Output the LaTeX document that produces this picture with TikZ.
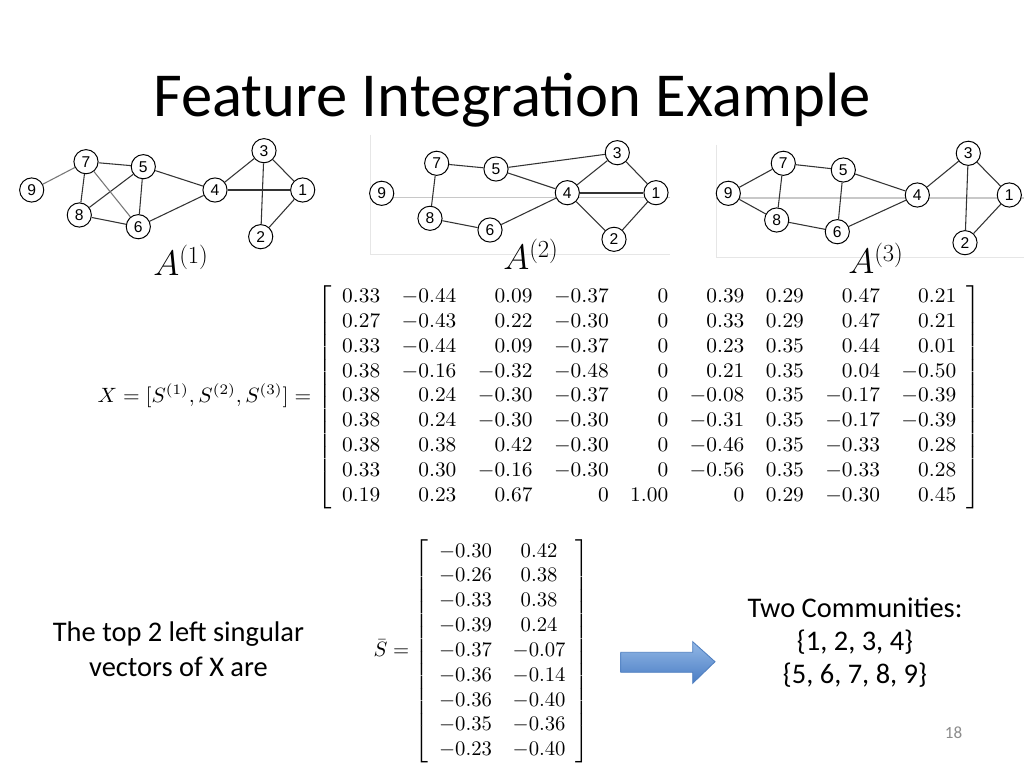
\documentclass[tikz,border=0pt]{standalone}
\usepackage[no-math]{fontspec}
\setmainfont{Carlito}
\newfontfamily\digitfont{Liberation Sans}
\usepackage{graphicx}
\definecolor{edgegray}{HTML}{333333}
\definecolor{lightedge}{HTML}{777777}
\definecolor{axisgray}{HTML}{C8C8C8}
\definecolor{axisfaint}{HTML}{E6E6E6}
\definecolor{arrowtop}{HTML}{93B8E6}
\definecolor{arrowbot}{HTML}{4A7DC4}
\definecolor{arrowline}{HTML}{4F7FC0}
\definecolor{pagegray}{HTML}{8C8C8C}
\tikzset{
  gnode/.style={circle,draw=black,fill=white,line width=0.7pt,minimum size=17pt,inner sep=0pt,font=\digitfont\fontsize{11}{12}\selectfont},
  gedge/.style={draw=edgegray,line width=0.75pt},
  gedgelight/.style={draw=lightedge,line width=0.75pt},
  axisline/.style={draw=axisgray,line width=0.6pt},
  faintline/.style={draw=axisfaint,line width=0.6pt},
  alabel/.style={anchor=base west,inner sep=0pt,font=\fontsize{23}{26}\selectfont},
  bodytext/.style={anchor=base,inner sep=0pt,font=\fontsize{20}{24}\selectfont},
  mathbox/.style={inner sep=0pt}
}
\begin{document}
\begin{tikzpicture}[x=0.703125pt,y=-0.703125pt]
\fill[white] (0,0) rectangle (1024,768);
\useasboundingbox (0,0) rectangle (1024,768);

% title
\node[anchor=base,inner sep=0pt,font=\fontsize{44}{50}\selectfont] (title) at (512,117) {Feature Integration Example};

% graph backgrounds (axes of the pasted plots)
\draw[faintline] (370,135) -- (370,254) -- (670,254);
\draw[axisline] (370,197.5) -- (670,197.5);
\draw[faintline] (716,145) -- (716,257) -- (1024,257);
\draw[draw=axisgray,line width=1.4pt] (716,198.3) -- (1024,198.3);

% graph 1
\foreach \n/\x/\y in {1/302.7/190,2/260.7/236.7,3/264/150.7,4/215/190,5/143.3/166.7,6/138.3/226.7,7/86/161.7,8/79.3/215,9/31.7/190}
  \node[gnode] (a\n) at (\x,\y) {\n};
\foreach \u/\v in {7/5,7/8,5/8,5/6,5/4,8/6,6/4,4/3,4/1,3/1,3/2,1/2}
  \draw[gedge] (a\u) -- (a\v);
\foreach \u/\v in {9/7,7/6}
  \draw[gedgelight] (a\u) -- (a\v);
\node[alabel] (A1) at (153,276) {$A^{(1)}$};

% graph 2
\foreach \n/\x/\y in {1/656/192.7,2/614/239.3,3/617.3/152.7,4/567.3/192.7,5/496/169,6/490/230,7/436.7/163.3,8/430/218.3,9/381.7/193.3}
  \node[gnode] (b\n) at (\x,\y) {\n};
\foreach \u/\v in {7/5,7/8,5/3,5/4,8/6,6/4,4/3,4/2,3/1,1/2}
  \draw[gedge] (b\u) -- (b\v);
\draw[gedge,line width=1.3pt] (b4) -- (b1);
\node[alabel] (A2) at (503,270) {$A^{(2)}$};

% graph 3
\foreach \n/\x/\y in {1/1009.3/195,2/965/242.7,3/968.3/153.3,4/917.3/195,5/843.3/170,6/837.3/231.7,7/783.3/163.3,8/776.7/220,9/728.3/193.3}
  \node[gnode] (c\n) at (\x,\y) {\n};
\foreach \u/\v in {9/7,9/8,7/5,7/8,5/4,5/6,8/6,6/4,4/3,3/1,3/2,1/2}
  \draw[gedge] (c\u) -- (c\v);
\node[alabel] (A3) at (848,274) {$A^{(3)}$};

% matrix X
\node[mathbox,anchor=east] (Xeq) at (981.5,397) {\scalebox{1.506}[1.455]{$X=[S^{(1)},S^{(2)},S^{(3)}]=\left[\begin{array}{rrrrrrrrr}
0.33 & -0.44 & 0.09 & -0.37 & 0 & 0.39 & 0.29 & 0.47 & 0.21\\
0.27 & -0.43 & 0.22 & -0.30 & 0 & 0.33 & 0.29 & 0.47 & 0.21\\
0.33 & -0.44 & 0.09 & -0.37 & 0 & 0.23 & 0.35 & 0.44 & 0.01\\
0.38 & -0.16 & -0.32 & -0.48 & 0 & 0.21 & 0.35 & 0.04 & -0.50\\
0.38 & 0.24 & -0.30 & -0.37 & 0 & -0.08 & 0.35 & -0.17 & -0.39\\
0.38 & 0.24 & -0.30 & -0.30 & 0 & -0.31 & 0.35 & -0.17 & -0.39\\
0.38 & 0.38 & 0.42 & -0.30 & 0 & -0.46 & 0.35 & -0.33 & 0.28\\
0.33 & 0.30 & -0.16 & -0.30 & 0 & -0.56 & 0.35 & -0.33 & 0.28\\
0.19 & 0.23 & 0.67 & 0 & 1.00 & 0 & 0.29 & -0.30 & 0.45
\end{array}\right]$}};

% matrix S bar
\node[mathbox,anchor=east] (Seq) at (590,651.5) {\scalebox{1.455}{$\bar{S}=\left[\begin{array}{cc}
-0.30 & 0.42\\
-0.26 & 0.38\\
-0.33 & 0.38\\
-0.39 & 0.24\\
-0.37 & -0.07\\
-0.36 & -0.14\\
-0.36 & -0.40\\
-0.35 & -0.36\\
-0.23 & -0.40
\end{array}\right]$}};

% left text
\node[bodytext] (lt1) at (178.5,641.7) {The top 2 left singular};
\node[bodytext] (lt2) at (178.5,676) {vectors of X are};

% right text
\node[bodytext] (rt1) at (855,617) {Two Communities:};
\node[bodytext] (rt2) at (855,650) {\{1, 2, 3, 4\}};
\node[bodytext] (rt3) at (855,683) {\{5, 6, 7, 8, 9\}};

% block arrow
\path[draw=arrowline,line width=0.6pt,top color=arrowtop,bottom color=arrowbot]
  (620.7,652.3) -- (692.7,652.3) -- (692.7,641.7) -- (715,661.7) -- (692.7,683.3) -- (692.7,672.3) -- (620.7,672.3) -- cycle;
\coordinate (arrowtip) at (715,661.7);

% page number
\node[anchor=base,inner sep=0pt,text=pagegray,font=\fontsize{12}{14}\selectfont] (pnum) at (953.5,738) {18};
\end{tikzpicture}
\end{document}
